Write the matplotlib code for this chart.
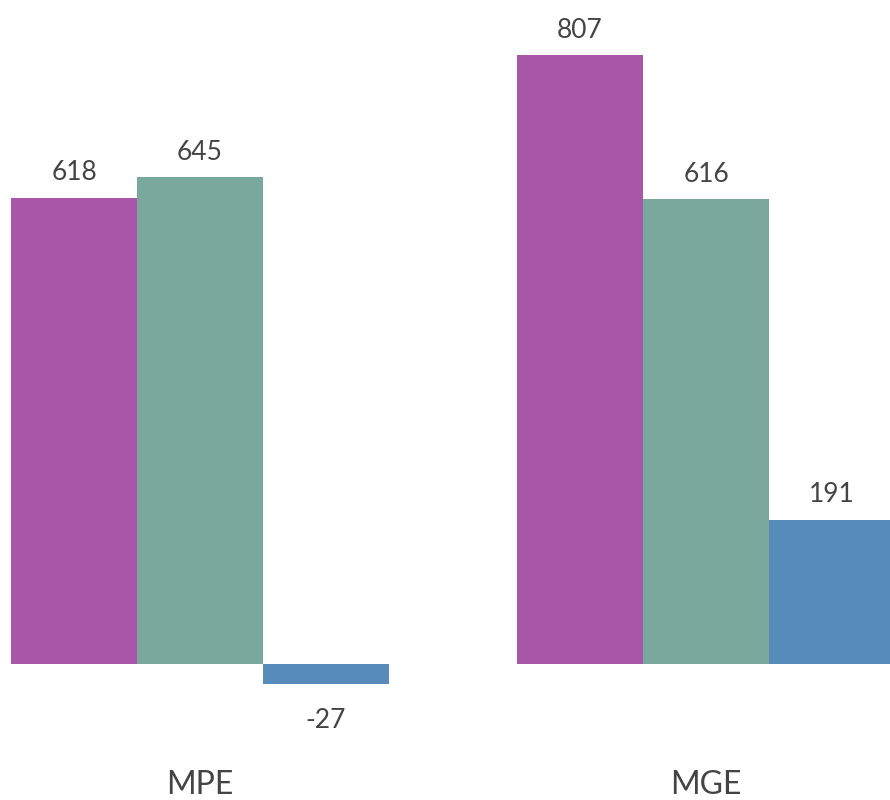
import matplotlib
matplotlib.use("Agg")
import matplotlib.pyplot as plt
import numpy as np

categories = ["MPE", "MGE"]
series_a = [618, 807]
series_b = [645, 616]
series_c = [-27, 191]
colors = ["#A857A8", "#7BA89C", "#568BBB"]

plt.rcParams['font.family'] = ['Lato', 'DejaVu Sans']

fig = plt.figure(figsize=(8.9, 8.0), dpi=100)
ax = fig.add_axes([0, 0, 1, 1])
ppu = 609 / 807.0  # pixels per unit
ax.set_ylim(-(800 - 664) / ppu, 664 / ppu)
ax.set_xlim((0 - 200) / 506.0, (890 - 200) / 506.0)
ax.axis('off')

x = np.arange(len(categories))
w = 126 / 506.0
for i, (vals, c) in enumerate(zip([series_a, series_b, series_c], colors)):
    pos = x + (i - 1) * w
    bars = ax.bar(pos, vals, width=w, color=c, edgecolor='none')
    for p, v in zip(pos, vals):
        if v >= 0:
            ax.annotate(str(v), (p, v), xytext=(0, 9), textcoords='offset points',
                        ha='center', va='bottom', fontsize=19, color='#444444')
        else:
            ax.annotate(str(v), (p, v), xytext=(0, -17), textcoords='offset points',
                        ha='center', va='top', fontsize=19, color='#444444')

for xi, cat in zip(x, categories):
    ax.text(xi, -(785 - 664) / ppu, cat, ha='center', va='center', fontsize=23, color='#444444')

fig.savefig("out.png", dpi=100)
